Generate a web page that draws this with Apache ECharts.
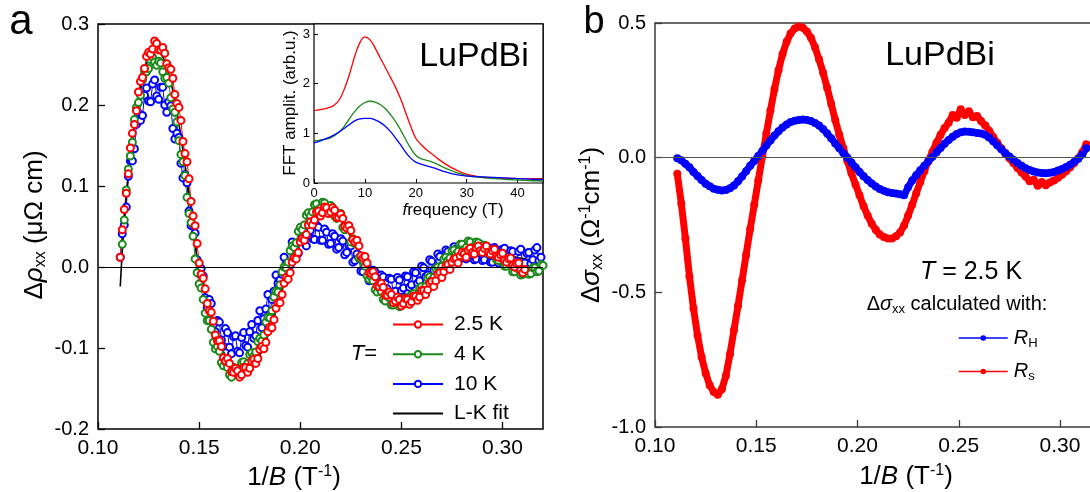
<!DOCTYPE html>
<html>
<head>
<meta charset="utf-8">
<title>LuPdBi quantum oscillations</title>
<script src="https://cdn.jsdelivr.net/npm/echarts@6/dist/echarts.min.js"></script>
<style>
  html, body { margin: 0; padding: 0; background: #fff; }
  #chart { width: 1090px; height: 492px; }
</style>
</head>
<body>
<div id="chart"></div>
<script>
const FONT = 'Arial, "Liberation Sans", Helvetica, sans-serif';

// ---- Panel a: oscillatory part of rho_xx vs 1/B ----
// Each temperature is stored as two interleaved sweeps (start value, step 0.002 T^-1).
const rhoStep = 0.002;

const rho10K_aStart = 0.111;
const rho10K_a = [0.012,0.052,0.112,0.131,0.176,0.181,0.212,0.205,0.226,0.211,
  0.222,0.200,0.204,0.171,0.165,0.128,0.114,0.069,0.052,0.009,
  -0.002,-0.038,-0.040,-0.071,-0.066,-0.090,-0.076,-0.099,-0.086,-0.104,
  -0.087,-0.097,-0.080,-0.088,-0.066,-0.075,-0.052,-0.058,-0.030,-0.020,
  -0.009,0.004,0.002,0.024,0.017,0.036,0.026,0.045,0.034,0.049,
  0.033,0.043,0.029,0.038,0.024,0.032,0.018,0.026,0.008,0.011,
  -0.006,0.002,-0.014,-0.006,-0.021,-0.012,-0.027,-0.015,-0.030,-0.016,
  -0.026,-0.012,-0.022,-0.007,-0.017,-0.001,-0.010,0.007,-0.001,0.013,
  0.004,0.019,0.008,0.022,0.011,0.026,0.012,0.024,0.010,0.028,
  0.009,0.024,0.006,0.021,0.008,0.023,0.004,0.019,0.007,0.022,
  0.005,0.018,0.009,0.024,0.012];
const rho10K_bStart = 0.112;
const rho10K_b = [0.041,0.074,0.131,0.146,0.190,0.187,0.221,0.204,0.231,0.207,
  0.222,0.191,0.199,0.158,0.160,0.110,0.104,0.051,0.042,-0.008,
  -0.011,-0.050,-0.045,-0.080,-0.068,-0.098,-0.081,-0.107,-0.085,-0.106,
  -0.081,-0.099,-0.071,-0.085,-0.054,-0.064,-0.034,-0.040,-0.010,-0.016,
  0.012,0.005,0.031,0.020,0.044,0.030,0.050,0.035,0.052,0.033,
  0.047,0.028,0.041,0.022,0.035,0.015,0.027,0.006,0.016,-0.005,
  0.004,-0.017,-0.004,-0.025,-0.010,-0.031,-0.014,-0.032,-0.013,-0.029,
  -0.011,-0.025,-0.006,-0.020,0.001,-0.012,0.009,-0.004,0.016,0.002,
  0.021,0.006,0.025,0.009,0.027,0.010,0.029,0.009,0.026,0.008,
  0.025,0.006,0.024,0.005,0.022,0.003,0.020,0.002,0.019,0.003,
  0.017,0.004,0.021,0.008];

const rho4K_aStart = 0.112;
const rho4K_a = [0.028,0.095,0.137,0.182,0.203,0.231,0.241,0.256,0.253,0.254,
  0.241,0.234,0.209,0.191,0.156,0.130,0.086,0.055,0.010,-0.021,
  -0.040,-0.066,-0.077,-0.101,-0.104,-0.122,-0.124,-0.136,-0.125,-0.128,
  -0.117,-0.119,-0.106,-0.105,-0.088,-0.084,-0.062,-0.054,-0.030,-0.022,
  0.000,0.006,0.026,0.030,0.049,0.052,0.067,0.068,0.078,0.073,
  0.079,0.071,0.073,0.060,0.066,0.046,0.051,0.035,0.028,0.011,
  0.001,-0.015,-0.017,-0.031,-0.030,-0.042,-0.038,-0.047,-0.042,-0.048,
  -0.040,-0.043,-0.033,-0.035,-0.024,-0.024,-0.012,-0.013,0.000,0.001,
  0.012,0.011,0.021,0.019,0.028,0.024,0.031,0.025,0.030,0.022,
  0.025,0.016,0.018,0.008,0.010,0.001,0.003,-0.006,-0.003,-0.009,
  -0.004,-0.008,-0.001,-0.005,0.002];
const rho4K_bStart = 0.113;
const rho4K_b = [0.058,0.121,0.154,0.197,0.212,0.241,0.245,0.259,0.249,0.252,
  0.233,0.227,0.195,0.179,0.139,0.113,0.066,0.038,-0.007,-0.026,
  -0.057,-0.066,-0.093,-0.098,-0.118,-0.117,-0.133,-0.124,-0.131,-0.118,
  -0.123,-0.108,-0.110,-0.092,-0.091,-0.068,-0.063,-0.037,-0.031,-0.006,
  -0.001,0.020,0.024,0.044,0.046,0.064,0.063,0.077,0.071,0.080,
  0.071,0.076,0.063,0.065,0.049,0.049,0.031,0.029,0.011,0.008,
  -0.011,-0.012,-0.028,-0.026,-0.040,-0.036,-0.047,-0.041,-0.049,-0.039,
  -0.045,-0.034,-0.038,-0.026,-0.028,-0.014,-0.016,-0.002,-0.004,0.010,
  0.008,0.020,0.016,0.028,0.022,0.032,0.024,0.031,0.022,0.027,
  0.017,0.020,0.009,0.012,0.001,0.005,-0.006,-0.001,-0.010,-0.003,
  -0.009,-0.001,-0.006,0.003];

const rho2p5K_aStart = 0.111;
const rho2p5K_a = [0.012,0.071,0.115,0.165,0.193,0.229,0.245,0.265,0.269,0.276,
  0.268,0.264,0.246,0.233,0.202,0.181,0.140,0.109,0.063,0.029,
  -0.009,-0.027,-0.054,-0.067,-0.091,-0.098,-0.116,-0.119,-0.130,-0.128,
  -0.133,-0.124,-0.125,-0.114,-0.113,-0.098,-0.093,-0.074,-0.065,-0.044,
  -0.034,-0.013,-0.007,0.011,0.018,0.035,0.040,0.056,0.058,0.069,
  0.067,0.073,0.068,0.070,0.061,0.060,0.048,0.045,0.031,0.026,
  0.011,0.005,-0.008,-0.012,-0.024,-0.025,-0.035,-0.034,-0.042,-0.040,
  -0.045,-0.040,-0.043,-0.036,-0.037,-0.029,-0.028,-0.018,-0.017,-0.007,
  -0.006,0.003,0.006,0.011,0.014,0.016,0.021,0.018,0.024,0.020,
  0.023,0.018,0.020,0.013,0.015,0.008,0.010,0.002,0.004,-0.004,-0.003];
const rho2p5K_bStart = 0.112;
const rho2p5K_b = [0.046,0.091,0.147,0.176,0.216,0.234,0.260,0.263,0.279,0.268,
  0.271,0.251,0.244,0.213,0.197,0.155,0.130,0.081,0.051,0.005,
  -0.014,-0.045,-0.056,-0.084,-0.091,-0.112,-0.113,-0.129,-0.125,-0.136,
  -0.124,-0.130,-0.116,-0.119,-0.102,-0.101,-0.080,-0.075,-0.051,-0.044,
  -0.020,-0.015,0.006,0.010,0.031,0.033,0.052,0.052,0.068,0.063,
  0.074,0.066,0.073,0.061,0.065,0.050,0.051,0.034,0.033,0.014,
  0.013,-0.007,-0.006,-0.023,-0.020,-0.035,-0.031,-0.044,-0.037,-0.048,
  -0.039,-0.046,-0.036,-0.041,-0.029,-0.034,-0.020,-0.024,-0.009,-0.013,
  0.001,-0.003,0.010,0.005,0.018,0.012,0.023,0.016,0.026,0.018,
  0.026,0.016,0.022,0.012,0.017,0.006,0.011,0.000,0.005,-0.007];

// Lifshitz-Kosevich fit curve
const lkFitStart = 0.111;
const lkFit = [-0.024,0.058,0.112,0.155,0.192,0.221,0.243,0.257,0.265,0.266,
  0.263,0.254,0.238,0.218,0.192,0.161,0.127,0.090,0.051,0.010,
  -0.014,-0.033,-0.052,-0.069,-0.084,-0.098,-0.110,-0.120,-0.127,-0.131,
  -0.133,-0.132,-0.129,-0.123,-0.114,-0.104,-0.092,-0.077,-0.062,-0.045,
  -0.027,-0.009,0.006,0.017,0.028,0.038,0.046,0.054,0.060,0.065,
  0.067,0.068,0.067,0.064,0.060,0.054,0.046,0.037,0.028,0.017,
  0.007,-0.002,-0.007,-0.012,-0.016,-0.021,-0.024,-0.028,-0.030,-0.032,
  -0.033,-0.034,-0.034,-0.033,-0.031,-0.029,-0.026,-0.022,-0.018,-0.014,
  -0.009,-0.004,0.001,0.003,0.005,0.008,0.010,0.012,0.013,0.014,
  0.015,0.016,0.016,0.016,0.016,0.015,0.014,0.013,0.012,0.011,
  0.010,0.009,0.008,0.007,0.006];

// ---- Inset: FFT amplitude vs frequency (T), 1 T steps from 0 ----
const fftFreqStart = 0, fftFreqStep = 1;
const fft2p5K = [1.46,1.47,1.49,1.52,1.57,1.68,1.90,2.20,2.55,2.82,
  2.94,2.88,2.72,2.52,2.33,2.13,1.93,1.70,1.42,1.14,
  0.90,0.78,0.68,0.60,0.52,0.44,0.37,0.31,0.26,0.21,
  0.18,0.155,0.135,0.12,0.11,0.105,0.10,0.10,0.095,0.095,
  0.09,0.09,0.09,0.09,0.09,0.09];
const fft4K = [0.85,0.86,0.88,0.90,0.95,1.03,1.15,1.30,1.44,1.55,
  1.62,1.645,1.63,1.58,1.50,1.38,1.24,1.07,0.88,0.70,
  0.56,0.49,0.46,0.43,0.39,0.34,0.29,0.25,0.21,0.18,
  0.15,0.13,0.12,0.11,0.10,0.09,0.085,0.08,0.07,0.065,
  0.06,0.055,0.05,0.045,0.045,0.04];
const fft10K = [0.81,0.84,0.88,0.92,0.97,1.03,1.10,1.18,1.25,1.29,
  1.30,1.30,1.27,1.22,1.14,1.04,0.91,0.77,0.62,0.50,
  0.42,0.38,0.35,0.32,0.29,0.25,0.22,0.19,0.17,0.155,
  0.14,0.135,0.13,0.125,0.12,0.115,0.11,0.105,0.10,0.095,
  0.09,0.085,0.08,0.075,0.07,0.07];

// ---- Panel b: Δσxx at 2.5 K from R_H and R_s (start 0.111, step 0.002 T^-1) ----
const sigStart = 0.111, sigStep = 0.002;
const sigRH = [-0.002,-0.010,-0.023,-0.036,-0.053,-0.068,-0.083,-0.097,-0.106,-0.115,
  -0.119,-0.122,-0.120,-0.114,-0.103,-0.088,-0.070,-0.050,-0.030,-0.012,
  0.006,0.025,0.045,0.064,0.082,0.098,0.112,0.123,0.132,0.137,
  0.140,0.142,0.140,0.136,0.129,0.119,0.106,0.090,0.072,0.053,
  0.035,0.017,0.000,-0.018,-0.036,-0.053,-0.069,-0.083,-0.096,-0.107,
  -0.116,-0.123,-0.128,-0.131,-0.133,-0.136,-0.140,-0.110,-0.085,-0.065,
  -0.047,-0.030,-0.013,0.003,0.020,0.036,0.052,0.066,0.078,0.088,
  0.094,0.097,0.096,0.094,0.092,0.090,0.085,0.075,0.061,0.046,
  0.031,0.017,0.004,-0.008,-0.020,-0.030,-0.039,-0.046,-0.051,-0.055,
  -0.057,-0.058,-0.056,-0.053,-0.048,-0.042,-0.035,-0.026,-0.016,-0.004,
  0.012,0.035];
const sigRs = [-0.06,-0.17,-0.30,-0.44,-0.56,-0.66,-0.74,-0.80,-0.845,-0.870,
  -0.880,-0.860,-0.810,-0.730,-0.640,-0.550,-0.455,-0.360,-0.265,-0.175,
  -0.085,0.005,0.090,0.175,0.255,0.325,0.385,0.430,0.462,0.480,
  0.487,0.482,0.468,0.445,0.410,0.365,0.315,0.260,0.200,0.140,
  0.085,0.035,-0.012,-0.058,-0.100,-0.140,-0.180,-0.215,-0.245,-0.268,
  -0.285,-0.295,-0.300,-0.300,-0.292,-0.278,-0.252,-0.215,-0.175,-0.132,
  -0.090,-0.050,-0.012,0.022,0.055,0.085,0.110,0.130,0.158,0.148,
  0.180,0.158,0.172,0.150,0.155,0.136,0.120,0.100,0.077,0.055,
  0.035,0.015,-0.002,-0.020,-0.038,-0.055,-0.070,-0.088,-0.082,-0.104,
  -0.090,-0.102,-0.092,-0.085,-0.075,-0.063,-0.050,-0.036,-0.020,-0.003,
  0.020,0.050];

// Tick layout
const xTicks = { min: 0.10, interval: 0.05 };
const rhoTicks = { min: -0.2, max: 0.3, interval: 0.1 };
const sigTicks = { min: -1.0, max: 0.5, interval: 0.5 };
const fftTicks = { xmin: 0, xmax: 45, xint: 10, ymin: 0, ymax: 3.2, yint: 1 };

function sampled(start, step, ys) {
  return ys.map((y, i) => [+(start + i * step).toFixed(5), y]);
}
function sweeps(a, b) {
  return a.concat(b).sort((p, q) => p[0] - q[0]);
}

const RED = '#ff0000', GREEN = '#1b8a1b', BLUE = '#0000ff';

function fmt(d) {
  return v => (Math.abs(v) < 1e-9 ? 0 : v).toFixed(d);
}

function valueAxis(extra) {
  return Object.assign({
    type: 'value',
    splitLine: { show: false },
    axisLine: { show: false, onZero: false },
    axisTick: { show: true, inside: true, length: 7, lineStyle: { color: '#000', width: 1.3 } },
    axisLabel: { color: '#000', fontSize: 20, fontFamily: FONT, margin: 8, showMaxLabel: false }
  }, extra);
}

const chart = echarts.init(document.getElementById('chart'), null, { renderer: 'canvas' });

const richSub = {
  n: { fontSize: 26, fontFamily: FONT, color: '#000' },
  i: { fontSize: 26, fontFamily: FONT, fontStyle: 'italic', color: '#000' },
  sub: { fontSize: 16, fontFamily: FONT, color: '#000', padding: [12, 0, 0, 0] },
  sup: { fontSize: 16, fontFamily: FONT, color: '#000', padding: [0, 0, 12, 0] }
};

function txt(x, y, text, size, opts) {
  return Object.assign({
    type: 'text', x: x, y: y, z: 100,
    style: Object.assign({
      text: text, fill: '#000', fontSize: size, fontFamily: FONT,
      textAlign: 'center', textVerticalAlign: 'middle'
    }, (opts && opts.style) || {})
  }, opts && opts.rotation ? { rotation: opts.rotation } : {});
}
function richPlainItalic(size) {
  return {
    n: { fontSize: size, fontFamily: FONT, color: '#000' },
    i: { fontSize: size, fontFamily: FONT, fontStyle: 'italic', color: '#000' }
  };
}

const option = {
  backgroundColor: '#fff',
  animation: false,
  grid: [
    { left: 98, top: 24, width: 445, height: 405, show: true, borderColor: '#000', borderWidth: 1.5, containLabel: false, outerBoundsMode: 'none' },
    { left: 314, top: 24, width: 229, height: 159, show: true, borderColor: '#000', borderWidth: 1.2, backgroundColor: '#fff', containLabel: false, outerBoundsMode: 'none' },
    { left: 655, top: 23, width: 436, height: 404, show: true, borderColor: '#3a3a3a', borderWidth: 1.5, containLabel: false, outerBoundsMode: 'none' }
  ],
  xAxis: [
    valueAxis({ gridIndex: 0, min: xTicks.min, max: 0.32, interval: xTicks.interval,
      axisLabel: { color: '#000', fontSize: 21, fontFamily: FONT, margin: 9, showMaxLabel: false, formatter: fmt(2) } }),
    valueAxis({ gridIndex: 1, min: fftTicks.xmin, max: fftTicks.xmax, interval: fftTicks.xint,
      axisTick: { show: true, inside: true, length: 4, lineStyle: { color: '#000', width: 1 } },
      axisLabel: { color: '#000', fontSize: 13, fontFamily: FONT, margin: 4, showMaxLabel: false } }),
    valueAxis({ gridIndex: 2, min: xTicks.min, max: 0.3153, interval: xTicks.interval,
      axisTick: { show: true, inside: true, length: 7, lineStyle: { color: '#3a3a3a', width: 1.3 } },
      axisLabel: { color: '#000', fontSize: 21, fontFamily: FONT, margin: 9, showMaxLabel: false, formatter: fmt(2) } })
  ],
  yAxis: [
    valueAxis({ gridIndex: 0, min: rhoTicks.min, max: rhoTicks.max, interval: rhoTicks.interval,
      axisLabel: { color: '#000', fontSize: 20, fontFamily: FONT, margin: 9, formatter: fmt(1) } }),
    valueAxis({ gridIndex: 1, min: fftTicks.ymin, max: fftTicks.ymax, interval: fftTicks.yint,
      axisTick: { show: true, inside: true, length: 4, lineStyle: { color: '#000', width: 1 } },
      axisLabel: { color: '#000', fontSize: 13, fontFamily: FONT, margin: 4, showMaxLabel: false } }),
    valueAxis({ gridIndex: 2, min: sigTicks.min, max: sigTicks.max, interval: sigTicks.interval,
      axisTick: { show: true, inside: true, length: 7, lineStyle: { color: '#3a3a3a', width: 1.3 } },
      axisLabel: { color: '#000', fontSize: 20, fontFamily: FONT, margin: 9, formatter: fmt(1) } })
  ],
  legend: [
    {
      data: ['2.5 K', '4 K', '10 K', { name: 'L-K fit', itemStyle: { opacity: 0 } }],
      orient: 'vertical', left: 392, top: 314, padding: 0,
      itemWidth: 50, itemHeight: 8, itemGap: 8.7,
      textStyle: { color: '#000', fontSize: 21, fontFamily: FONT, padding: [0, 0, 0, 6] },
      selectedMode: false
    },
    {
      data: ['RH', 'Rs'],
      orient: 'vertical', left: 958, top: 328, padding: 0,
      itemWidth: 49, itemHeight: 7, itemGap: 12,
      lineStyle: { width: 1.5 },
      formatter: name => name === 'RH' ? '{i|R}{s|H}' : '{i|R}{s|s}',
      textStyle: {
        color: '#000', fontFamily: FONT, padding: [0, 0, 0, 1],
        rich: {
          i: { fontSize: 20, fontStyle: 'italic', fontFamily: FONT, color: '#000' },
          s: { fontSize: 13, fontFamily: FONT, color: '#000', padding: [10, 0, 0, 0] }
        }
      },
      selectedMode: false
    }
  ],
  series: [
    {
      name: '10 K', type: 'line', xAxisIndex: 0, yAxisIndex: 0,
      data: sweeps(sampled(rho10K_aStart, rhoStep, rho10K_a), sampled(rho10K_bStart, rhoStep, rho10K_b)),
      symbol: 'emptyCircle', symbolSize: 7, showAllSymbol: true,
      lineStyle: { color: BLUE, width: 1 }, itemStyle: { color: BLUE, borderWidth: 1.1 },
      markLine: { silent: true, symbol: 'none', label: { show: false },
        lineStyle: { color: '#000', width: 1, type: 'solid' }, data: [{ yAxis: 0 }] }
    },
    {
      name: '4 K', type: 'line', xAxisIndex: 0, yAxisIndex: 0,
      data: sweeps(sampled(rho4K_aStart, rhoStep, rho4K_a), sampled(rho4K_bStart, rhoStep, rho4K_b)),
      symbol: 'emptyCircle', symbolSize: 7, showAllSymbol: true,
      lineStyle: { color: GREEN, width: 1 }, itemStyle: { color: GREEN, borderWidth: 1.1 }
    },
    {
      name: '2.5 K', type: 'line', xAxisIndex: 0, yAxisIndex: 0,
      data: sweeps(sampled(rho2p5K_aStart, rhoStep, rho2p5K_a), sampled(rho2p5K_bStart, rhoStep, rho2p5K_b)),
      symbol: 'emptyCircle', symbolSize: 7, showAllSymbol: true,
      lineStyle: { color: RED, width: 1 }, itemStyle: { color: RED, borderWidth: 1.1 }
    },
    {
      name: 'L-K fit', type: 'line', xAxisIndex: 0, yAxisIndex: 0,
      data: sampled(lkFitStart, rhoStep, lkFit),
      symbol: 'none', smooth: 0.3,
      lineStyle: { color: '#000', width: 1.6 }, itemStyle: { color: '#000' }
    },
    {
      name: 'FFT 2.5 K', type: 'line', xAxisIndex: 1, yAxisIndex: 1,
      data: sampled(fftFreqStart, fftFreqStep, fft2p5K), symbol: 'none', smooth: 0.4,
      lineStyle: { color: RED, width: 1.3 }
    },
    {
      name: 'FFT 4 K', type: 'line', xAxisIndex: 1, yAxisIndex: 1,
      data: sampled(fftFreqStart, fftFreqStep, fft4K), symbol: 'none', smooth: 0.4,
      lineStyle: { color: GREEN, width: 1.3 }
    },
    {
      name: 'FFT 10 K', type: 'line', xAxisIndex: 1, yAxisIndex: 1,
      data: sampled(fftFreqStart, fftFreqStep, fft10K), symbol: 'none', smooth: 0.4,
      lineStyle: { color: BLUE, width: 1.3 }
    },
    {
      name: 'Rs', type: 'line', xAxisIndex: 2, yAxisIndex: 2,
      data: sampled(sigStart, sigStep, sigRs),
      symbol: 'circle', symbolSize: 8, showAllSymbol: true,
      lineStyle: { color: RED, width: 7 }, itemStyle: { color: RED },
      markLine: { silent: true, symbol: 'none', label: { show: false },
        lineStyle: { color: '#555', width: 1.2, type: 'solid' }, data: [{ yAxis: 0 }] }
    },
    {
      name: 'RH', type: 'line', xAxisIndex: 2, yAxisIndex: 2,
      data: sampled(sigStart, sigStep, sigRH),
      symbol: 'circle', symbolSize: 8, showAllSymbol: true,
      lineStyle: { color: BLUE, width: 7 }, itemStyle: { color: BLUE }
    }
  ],
  graphic: [
    txt(21, 22, 'a', 42),
    txt(594, 23, 'b', 38),
    txt(474, 57, 'LuPdBi', 34),
    txt(940, 56, 'LuPdBi', 34),
    txt(35, 225, '{n|Δ}{i|ρ}{sub|xx}{n| (μΩ cm)}', 26, { rotation: Math.PI / 2, style: { rich: richSub } }),
    txt(592, 225, '{n|Δ}{i|σ}{sub|xx}{n| (Ω}{sup|-1}{n|cm}{sup|-1}{n|)}', 26, { rotation: Math.PI / 2, style: { rich: richSub } }),
    txt(294, 478, '{n|1/}{i|B}{n| (T}{sup|-1}{n|)}', 26, { style: { rich: richSub } }),
    txt(906, 477, '{n|1/}{i|B}{n| (T}{sup|-1}{n|)}', 26, { style: { rich: richSub } }),
    txt(290, 103, 'FFT amplit. (arb.u.)', 17, { rotation: Math.PI / 2 }),
    txt(453, 210, '{i|f}{n|requency (T)}', 17, { style: { rich: richPlainItalic(17) } }),
    txt(364, 354, '{i|T}{n|=}', 22, { style: { rich: richPlainItalic(22) } }),
    txt(971, 272, '{i|T}{n| = 2.5 K}', 25, { style: { rich: richPlainItalic(25) } }),
    txt(957, 304, '{n|Δ}{i|σ}{sub|xx}{n| calculated with:}', 20, { style: { rich: {
      n: { fontSize: 20, fontFamily: FONT, color: '#000' },
      i: { fontSize: 20, fontFamily: FONT, fontStyle: 'italic', color: '#000' },
      sub: { fontSize: 13, fontFamily: FONT, color: '#000', padding: [10, 0, 0, 0] } } } })
  ]
};

chart.setOption(option);
</script>
</body>
</html>
